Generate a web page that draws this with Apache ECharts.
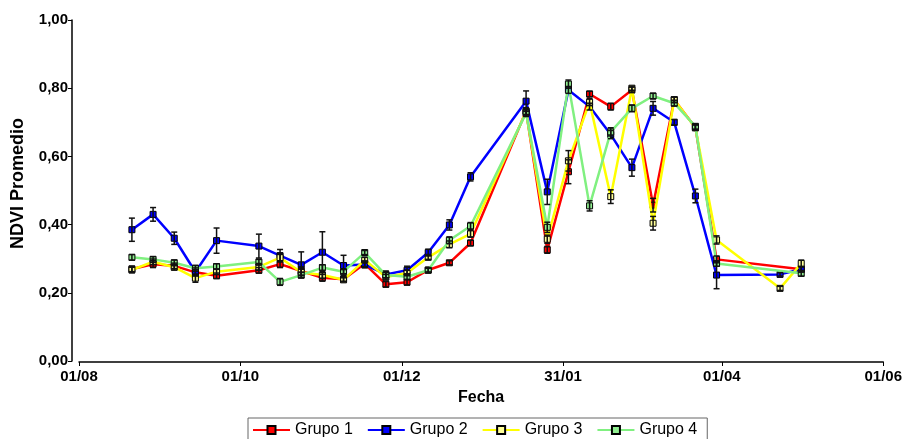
<!DOCTYPE html>
<html>
<head>
<meta charset="utf-8">
<script src="https://cdn.jsdelivr.net/npm/echarts@6/dist/echarts.min.js"></script>
<style>
  html, body { margin: 0; padding: 0; background: #fff; }
  #chart { width: 905px; height: 439px; }
</style>
</head>
<body>
<div id="chart"></div>
<script>
// fechas de las imagenes (compuestos de 8 dias)
const fechas = [
  '2010-08-21', '2010-08-29', '2010-09-06', '2010-09-14', '2010-09-22',
  '2010-10-08', '2010-10-16', '2010-10-24', '2010-11-01', '2010-11-09',
  '2010-11-17', '2010-11-25', '2010-12-03', '2010-12-11', '2010-12-19',
  '2010-12-27', '2011-01-17', '2011-01-25', '2011-02-02', '2011-02-10',
  '2011-02-18', '2011-02-26', '2011-03-06', '2011-03-14', '2011-03-22',
  '2011-03-30', '2011-04-23', '2011-05-01'
]
// etiquetas del eje x (dias desde 01/08)
const xTicks = [0, 61, 122, 183, 243, 304]
const xLabels = ['01/08', '01/10', '01/12', '31/01', '01/04', '01/06']

const nombres = ['Grupo 1', 'Grupo 2', 'Grupo 3', 'Grupo 4']

const grupo1 = [0.270, 0.284, 0.279, 0.260, 0.250, 0.266, 0.284, 0.264, 0.244, 0.240,
  0.285, 0.225, 0.231, 0.267, 0.288, 0.346, 0.733, 0.326, 0.555, 0.783,
  0.746, 0.795, 0.457, 0.766, 0.685, 0.298, null, 0.269]
const grupo2 = [0.385, 0.430, 0.360, 0.261, 0.353, 0.337, 0.309, 0.282, 0.319, 0.280,
  0.283, 0.254, 0.266, 0.318, 0.399, 0.540, 0.762, 0.496, 0.795, 0.746,
  0.664, 0.567, 0.741, 0.700, 0.484, 0.252, 0.254, 0.269]
const grupo3 = [0.267, 0.291, 0.275, 0.243, 0.262, 0.276, 0.303, 0.260, 0.252, 0.238,
  0.296, 0.246, 0.258, 0.304, 0.342, 0.373, 0.731, 0.357, 0.587, 0.759,
  0.482, 0.800, 0.404, 0.766, 0.684, 0.355, 0.213, 0.286]
const grupo4 = [0.304, 0.298, 0.288, 0.272, 0.277, 0.290, 0.232, 0.252, 0.274, 0.262,
  0.318, 0.252, 0.247, 0.266, 0.354, 0.396, 0.727, 0.392, 0.812, 0.455,
  0.672, 0.741, 0.777, 0.756, 0.688, 0.286, null, 0.257]

// error estandar
const err1 = [0.008, 0.010, 0.008, 0.008, 0.008, 0.008, 0.010, 0.012, 0.010, 0.006,
  0.008, 0.008, 0.008, 0.006, 0.006, 0.008, 0.010, 0.010, 0.035, 0.008,
  0.010, 0.008, 0.020, 0.008, 0.008, 0.010, 0, 0.008]
const err2 = [0.034, 0.020, 0.018, 0.012, 0.037, 0.035, 0.018, 0.038, 0.060, 0.030,
  0.010, 0.010, 0.012, 0.010, 0.015, 0.012, 0.030, 0.037, 0.010, 0.010,
  0.012, 0.025, 0.020, 0.008, 0.020, 0.040, 0.005, 0.008]
const err3 = [0.008, 0.008, 0.008, 0.012, 0.008, 0.010, 0.012, 0.010, 0.010, 0.006,
  0.008, 0.008, 0.008, 0.006, 0.010, 0.010, 0.010, 0.012, 0.030, 0.010,
  0.020, 0.006, 0.020, 0.008, 0.008, 0.012, 0.006, 0.010]
const err4 = [0.008, 0.008, 0.008, 0.008, 0.008, 0.008, 0.010, 0.008, 0.008, 0.006,
  0.006, 0.008, 0.008, 0.006, 0.010, 0.010, 0.010, 0.015, 0.012, 0.015,
  0.012, 0.010, 0.008, 0.008, 0.008, 0.008, 0, 0.008]

const lineColors = ['#ff0000', '#0000ff', '#ffff00', '#80f080']
const fillColors = ['#ff0000', '#0000ff', '#ffff99', '#90ee90']

const origen = Date.parse('2010-08-01')
const dias = fechas.map((f) => Math.round((Date.parse(f) - origen) / 86400000))

const grupos = [grupo1, grupo2, grupo3, grupo4]
const errores = [err1, err2, err3, err4]

const series = []
grupos.forEach((vals, g) => {
  series.push({
    name: nombres[g],
    type: 'line',
    data: dias.map((d, i) => [d, vals[i]]),
    connectNulls: true,
    symbol: 'rect',
    symbolSize: 6,
    showAllSymbol: true,
    lineStyle: { color: lineColors[g], width: 2.5 },
    itemStyle: { color: fillColors[g], borderColor: '#000', borderWidth: 1 },
    z: 2 + g,
    animation: false,
  })
})
// barras de error
grupos.forEach((vals, g) => {
  const data = []
  dias.forEach((d, i) => {
    if (vals[i] != null && errores[g][i] > 0) {
      data.push([d, vals[i] - errores[g][i], vals[i] + errores[g][i]])
    }
  })
  series.push({
    name: 'err' + g,
    type: 'custom',
    data: data,
    z: 10,
    silent: true,
    animation: false,
    renderItem: function (params, api) {
      const lo = api.coord([api.value(0), api.value(1)])
      const hi = api.coord([api.value(0), api.value(2)])
      const w = 3
      const style = { stroke: '#111', lineWidth: 1.5 }
      return {
        type: 'group',
        children: [
          { type: 'line', shape: { x1: lo[0], y1: lo[1], x2: hi[0], y2: hi[1] }, style: style },
          { type: 'line', shape: { x1: lo[0] - w, y1: lo[1], x2: lo[0] + w, y2: lo[1] }, style: style },
          { type: 'line', shape: { x1: hi[0] - w, y1: hi[1], x2: hi[0] + w, y2: hi[1] }, style: style },
        ],
      }
    },
  })
})

const chart = echarts.init(document.getElementById('chart'))
const bold = { fontFamily: 'Arial, Liberation Sans', fontWeight: 'bold', fontSize: 15, color: '#000' }
const option = {
  backgroundColor: '#fff',
  animation: false,
  grid: { left: 79, right: 20, top: 20, bottom: 78 },
  legend: {
    data: nombres,
    left: 248,
    top: 418,
    orient: 'horizontal',
    itemWidth: 37,
    itemHeight: 10,
    itemGap: 14,
    padding: [4, 10, 10, 4],
    borderColor: '#666',
    borderWidth: 1,
    textStyle: { fontFamily: 'Arial, Liberation Sans', fontSize: 16, color: '#000' },
  },
  xAxis: {
    type: 'value',
    min: 0,
    max: 304,
    offset: 1,
    name: 'Fecha',
    nameLocation: 'middle',
    nameGap: 28,
    nameTextStyle: { ...bold, fontSize: 16 },
    axisLine: { onZero: false, lineStyle: { color: '#000', width: 1.5 } },
    axisTick: { show: true, length: 4, customValues: xTicks, lineStyle: { color: '#000' } },
    axisLabel: {
      ...bold,
      margin: 7,
      customValues: xTicks,
      formatter: (v) => xLabels[xTicks.indexOf(v)],
    },
    splitLine: { show: false },
  },
  yAxis: {
    type: 'value',
    min: 0,
    max: 1,
    interval: 0.2,
    offset: 7,
    name: 'NDVI Promedio',
    nameLocation: 'middle',
    nameGap: 45,
    nameTextStyle: { ...bold, fontSize: 18, padding: [0, 0, 0, 14] },
    axisLine: { show: true, onZero: false, lineStyle: { color: '#000', width: 1.5 } },
    axisTick: { show: true, length: 4, lineStyle: { color: '#000' } },
    axisLabel: { ...bold, margin: 4, formatter: (v) => v.toFixed(2).replace('.', ',') },
    splitLine: { show: false },
  },
  series: series,
}
chart.setOption(option)
</script>
</body>
</html>
